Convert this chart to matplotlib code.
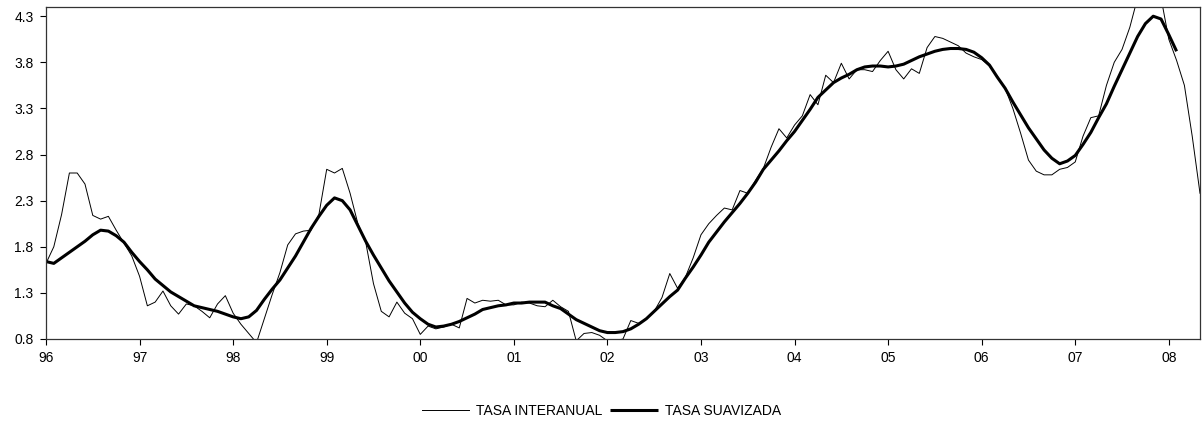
import numpy as np
import matplotlib
matplotlib.use("Agg")
import matplotlib.pyplot as plt

plt.rcParams['font.family'] = ['Liberation Sans', 'DejaVu Sans']

# Monthly series, January 1996 onwards
tasa_interanual = [
    1.62, 1.80, 2.15, 2.60, 2.60, 2.48, 2.14, 2.10, 2.13, 1.98, 1.84, 1.70,   # 1996
    1.48, 1.16, 1.20, 1.32, 1.16, 1.07, 1.18, 1.16, 1.10, 1.03, 1.18, 1.27,   # 1997
    1.08, 0.96, 0.86, 0.76, 1.02, 1.28, 1.52, 1.82, 1.94, 1.97, 1.98, 2.15,   # 1998
    2.64, 2.60, 2.65, 2.38, 2.05, 1.85, 1.40, 1.10, 1.04, 1.20, 1.08, 1.02,   # 1999
    0.85, 0.94, 0.91, 0.93, 0.96, 0.92, 1.24, 1.19, 1.22, 1.21, 1.22, 1.17,   # 2000
    1.17, 1.20, 1.19, 1.16, 1.15, 1.22, 1.15, 1.10, 0.78, 0.86, 0.87, 0.84,   # 2001
    0.78, 0.78, 0.80, 1.00, 0.97, 1.02, 1.10, 1.25, 1.51, 1.35, 1.47, 1.68,   # 2002
    1.93, 2.05, 2.14, 2.22, 2.20, 2.41, 2.38, 2.52, 2.65, 2.88, 3.08, 2.98,   # 2003
    3.12, 3.22, 3.45, 3.34, 3.66, 3.58, 3.79, 3.62, 3.72, 3.72, 3.70, 3.82,   # 2004
    3.92, 3.72, 3.62, 3.73, 3.68, 3.96, 4.08, 4.06, 4.02, 3.98, 3.90, 3.86,   # 2005
    3.83, 3.76, 3.65, 3.52, 3.30, 3.03, 2.74, 2.62, 2.58, 2.58, 2.64, 2.66,   # 2006
    2.72, 3.00, 3.20, 3.22, 3.55, 3.80, 3.94, 4.18, 4.50, 4.62, 4.65, 4.50,   # 2007
    4.05, 3.82, 3.55, 3.00, 2.38,                                             # 2008
]

tasa_suavizada = [
    1.64, 1.62, 1.68, 1.74, 1.80, 1.86, 1.93, 1.98, 1.97, 1.92, 1.85, 1.74,   # 1996
    1.64, 1.55, 1.45, 1.38, 1.31, 1.26, 1.21, 1.16, 1.14, 1.12, 1.10, 1.07,   # 1997
    1.04, 1.02, 1.04, 1.11, 1.23, 1.34, 1.44, 1.57, 1.70, 1.85, 2.00, 2.13,   # 1998
    2.25, 2.33, 2.30, 2.20, 2.03, 1.86, 1.71, 1.57, 1.43, 1.31, 1.19, 1.09,   # 1999
    1.02, 0.96, 0.93, 0.94, 0.96, 0.99, 1.03, 1.07, 1.12, 1.14, 1.16, 1.17,   # 2000
    1.19, 1.19, 1.20, 1.20, 1.20, 1.16, 1.13, 1.07, 1.01, 0.97, 0.93, 0.89,   # 2001
    0.87, 0.87, 0.88, 0.91, 0.96, 1.02, 1.10, 1.18, 1.26, 1.33, 1.46, 1.58,   # 2002
    1.71, 1.85, 1.96, 2.07, 2.17, 2.27, 2.38, 2.50, 2.64, 2.74, 2.84, 2.95,   # 2003
    3.05, 3.17, 3.29, 3.42, 3.50, 3.58, 3.63, 3.67, 3.72, 3.75, 3.76, 3.76,   # 2004
    3.75, 3.76, 3.78, 3.82, 3.86, 3.89, 3.92, 3.94, 3.95, 3.95, 3.94, 3.91,   # 2005
    3.85, 3.77, 3.64, 3.52, 3.37, 3.23, 3.09, 2.97, 2.85, 2.76, 2.70, 2.73,   # 2006
    2.79, 2.91, 3.04, 3.20, 3.35, 3.54, 3.72, 3.90, 4.08, 4.22, 4.30, 4.27,   # 2007
    4.10, 3.92,                                                               # 2008
]

year_labels = ['96', '97', '98', '99', '00', '01', '02', '03',
               '04', '05', '06', '07', '08']
y_ticks = [0.8, 1.3, 1.8, 2.3, 2.8, 3.3, 3.8, 4.3]

fig = plt.figure(figsize=(12.03, 4.28), dpi=100)
ax = fig.add_axes([46 / 1203, (428 - 339) / 428, (1200 - 46) / 1203, (339 - 7) / 428])

x_int = np.arange(len(tasa_interanual))
x_suav = np.arange(len(tasa_suavizada))

ax.plot(x_int, tasa_interanual, color='black', linewidth=0.7,
        label='TASA INTERANUAL', solid_joinstyle='round')
ax.plot(x_suav, tasa_suavizada, color='black', linewidth=2.2,
        label='TASA SUAVIZADA', solid_joinstyle='round', solid_capstyle='butt')

ax.set_xlim(0, 148)
ax.set_ylim(0.8, 4.4)
ax.set_xticks(np.arange(len(year_labels)) * 12)
ax.set_xticklabels(year_labels)
ax.set_yticks(y_ticks)
ax.set_yticklabels([f'{v:.1f}' for v in y_ticks])

ax.tick_params(axis='both', direction='out', length=4, width=0.8,
               labelsize=10, colors='black')
ax.tick_params(axis='x', pad=5)
ax.tick_params(axis='y', pad=5)
for s in ax.spines.values():
    s.set_color('#333333')
    s.set_linewidth(0.9)

fig.legend(loc='center', bbox_to_anchor=(0.5, (428 - 411) / 428),
           ncol=2, frameon=False, fontsize=10, handlelength=3.4,
           handletextpad=0.55, columnspacing=0.55)

fig.savefig('out.png', dpi=100)
